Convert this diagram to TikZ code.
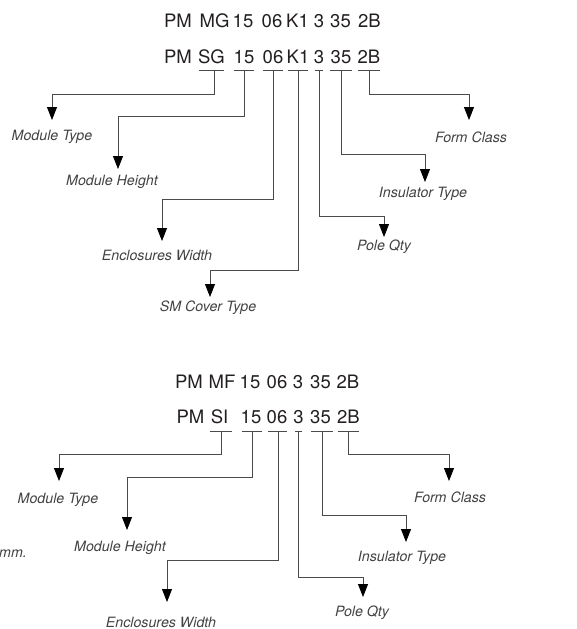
\documentclass[tikz,border=0pt]{standalone}
\usepackage{fontspec}
\setmainfont{TeX Gyre Heros}
\usetikzlibrary{arrows.meta}
\definecolor{txt}{HTML}{231F20}
\definecolor{ln}{HTML}{4A4A4A}
\tikzset{
  code/.style={font=\fontsize{18.5}{22}\selectfont, text=txt, inner sep=0pt, anchor=center},
  lab/.style={font=\fontsize{14.2}{16}\selectfont\itshape, text=txt!85, inner sep=0pt, anchor=center},
  uline/.style={draw=ln, line width=0.8pt},
  conn/.style={draw=ln, line width=0.8pt, -{Triangle[width=10pt,length=13pt,color=black]}}
}
\begin{document}
\begin{tikzpicture}[x=1pt,y=-1pt]
\useasboundingbox (0,0) rectangle (576,629);
% ---------- top block ----------
\node[code] (a1) at (178,21) {PM};
\node[code] (a2) at (214.5,21) {MG};
\node[code] (a3) at (243,21) {15};
\node[code] (a4) at (272,21) {06};
\node[code] (a5) at (297.5,21) {K1};
\node[code] (a6) at (319,21) {3};
\node[code] (a7) at (340.5,21) {35};
\node[code] (a8) at (369.5,21) {2B};
\node[code] (b1) at (178,57) {PM};
\node[code] (b2) at (211.5,57) {SG};
\node[code] (b3) at (244,57) {15};
\node[code] (b4) at (273,57) {06};
\node[code] (b5) at (298,57) {K1};
\node[code] (b6) at (319,57) {3};
\node[code] (b7) at (341,57) {35};
\node[code] (b8) at (369,57) {2B};
% underlines
\draw[uline] (199,70) -- (224,70);
\draw[uline] (234,70) -- (254,70);
\draw[uline] (263,70) -- (283,70);
\draw[uline] (288,70) -- (308,70);
\draw[uline] (315,70) -- (323,70);
\draw[uline] (330,70) -- (352,70);
\draw[uline] (358,70) -- (380,70);
\coordinate (s2) at (214,70);
\coordinate (s3) at (244,70);
\coordinate (s4) at (273,70);
\coordinate (s5) at (298,70);
\coordinate (s6) at (319,70);
\coordinate (s7) at (341,70);
\coordinate (s8) at (369,70);
% labels
\node[lab] (l2) at (52,137) {Module Type};
\node[lab] (l3) at (112,182) {Module Height};
\node[lab] (l4) at (157,255) {Enclosures Width};
\node[lab] (l5) at (208,308) {SM Cover Type};
\node[lab] (l6) at (384,247) {Pole Qty};
\node[lab] (l7) at (423,194) {Insulator Type};
\node[lab] (l8) at (471,137) {Form Class};
% bends and tips
\coordinate (k2) at (52,94);   \coordinate (t2) at (52,120);
\coordinate (k3) at (118,116); \coordinate (t3) at (118,169);
\coordinate (k4) at (162,199); \coordinate (t4) at (162,241);
\coordinate (k5) at (210,270); \coordinate (t5) at (210,297);
\coordinate (k6) at (384,216); \coordinate (t6) at (384,237);
\coordinate (k7) at (425,154); \coordinate (t7) at (425,182);
\coordinate (k8) at (469,94);  \coordinate (t8) at (469,120);
\foreach \i in {2,...,8}{\draw[conn] (s\i) |- (k\i) -- (t\i);}
% ---------- bottom block ----------
\node[code] (c1) at (189,382) {PM};
\node[code] (c2) at (222,382) {MF};
\node[code] (c3) at (250,382) {15};
\node[code] (c4) at (277,382) {06};
\node[code] (c5) at (298,382) {3};
\node[code] (c6) at (320.5,382) {35};
\node[code] (c7) at (348,382) {2B};
\node[code] (d1) at (190.5,417) {PM};
\node[code] (d2) at (219.5,417) {SI};
\node[code] (d3) at (251,417) {15};
\node[code] (d4) at (277,417) {06};
\node[code] (d5) at (298.5,417) {3};
\node[code] (d6) at (320.5,417) {35};
\node[code] (d7) at (348.5,417) {2B};
\draw[uline] (210,431) -- (232,431);
\draw[uline] (242,431) -- (262,431);
\draw[uline] (268,431) -- (287,431);
\draw[uline] (295,431) -- (302,431);
\draw[uline] (311,431) -- (333,431);
\draw[uline] (338,431) -- (359,431);
\coordinate (u2) at (221,431);
\coordinate (u3) at (252,431);
\coordinate (u4) at (278,431);
\coordinate (u5) at (298,431);
\coordinate (u6) at (322,431);
\coordinate (u7) at (348,431);
\node[lab] (m2) at (58,500) {Module Type};
\node[lab] (m3) at (120,548) {Module Height};
\node[lab] (m4) at (161,622) {Enclosures Width};
\node[lab] (m5) at (362,613) {Pole Qty};
\node[lab] (m6) at (402,558) {Insulator Type};
\node[lab] (m7) at (450,497) {Form Class};
\coordinate (j2) at (59,454);  \coordinate (q2) at (59,481);
\coordinate (j3) at (127,477); \coordinate (q3) at (127,530);
\coordinate (j4) at (167,560); \coordinate (q4) at (167,602);
\coordinate (j5) at (363,577); \coordinate (q5) at (363,597);
\coordinate (j6) at (406,515); \coordinate (q6) at (406,542);
\coordinate (j7) at (449,454); \coordinate (q7) at (449,481);
\foreach \i in {2,...,7}{\draw[conn] (u\i) |- (j\i) -- (q\i);}
% cut-off fragment at left edge
\node[lab, anchor=east] (frag) at (27,554) {mm.};
\end{tikzpicture}
\end{document}
